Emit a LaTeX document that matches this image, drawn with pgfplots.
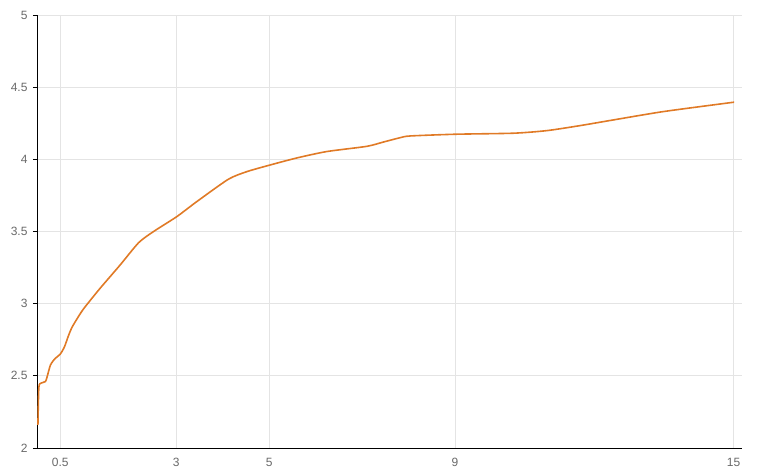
\documentclass[border=0pt]{standalone}
\usepackage{pgfplots}
\pgfplotsset{compat=1.18}
\usepackage{fontspec}
\setmainfont{Liberation Sans}
\definecolor{curve}{RGB}{224,122,38}
\definecolor{gridc}{RGB}{228,228,228}
\definecolor{lab}{RGB}{105,105,105}
\begin{document}
\begin{tikzpicture}
\path[use as bounding box] (-37pt,-27pt) rectangle (727pt,448pt);
\begin{axis}[
  at={(0pt,0pt)}, anchor=south west,
  scale only axis, width=705pt, height=433pt,
  xmin=0.0, xmax=15.18, ymin=2, ymax=5,
  axis x line*=bottom, axis y line*=left,
  axis line style={black, line width=0.9pt},
  xtick={0.5,3,5,9,15}, ytick={2,2.5,3,3.5,4,4.5,5},
  yticklabels={2,2.5,3,3.5,4,4.5,5},
  xticklabels={0.5,3,5,9,15},
  grid=major, major grid style={gridc, line width=0.7pt},
  tick style={black, line width=0.7pt}, tick align=outside,
  major tick length=4pt,
  xtick style={draw=none},
  ticklabel style={font=\fontsize{12}{14}\selectfont, text=lab},
  yticklabel style={xshift=-2pt},
  xticklabel style={yshift=-3pt},
  /pgf/number format/assume math mode=true,
]
\addplot[curve, line width=1.6pt, smooth, tension=0.4] coordinates {
(0.02,2.16) (0.04,2.42) (0.09,2.45) (0.18,2.46) (0.215,2.49) (0.29,2.575)
(0.39,2.62) (0.50,2.65) (0.59,2.70) (0.68,2.78) (0.76,2.84) (0.93,2.93)
(1.04,2.98) (1.36,3.107) (1.79,3.268) (2.19,3.423) (2.51,3.50) (3.01,3.603)
(3.44,3.707) (4.12,3.862) (4.52,3.915) (5.01,3.96) (5.60,4.01) (6.24,4.054)
(7.10,4.09) (7.46,4.12) (7.82,4.15) (8.04,4.162) (9.02,4.174) (10.26,4.181)
(10.98,4.199) (11.70,4.234) (12.41,4.273) (13.49,4.331) (15.01,4.396)
};
\end{axis}
\end{tikzpicture}
\end{document}
